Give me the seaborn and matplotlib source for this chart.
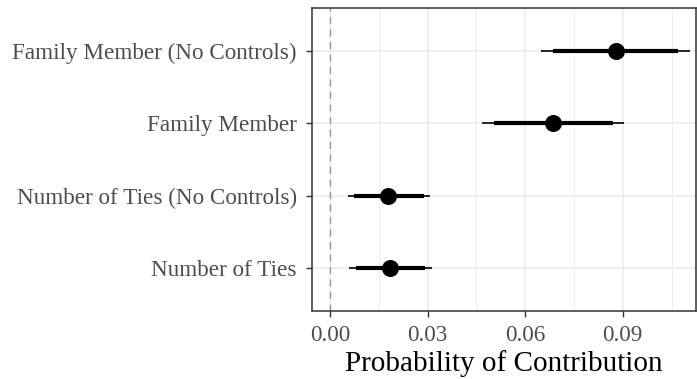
import matplotlib
matplotlib.use("Agg")
import matplotlib.pyplot as plt
import seaborn as sns
import pandas as pd
from matplotlib.ticker import MultipleLocator

# estimates, ordered bottom to top
labels = ["Number of Ties", "Number of Ties (No Controls)",
          "Family Member", "Family Member (No Controls)"]
est = [0.0186, 0.0180, 0.0687, 0.0879]
lo95 = [0.0059, 0.0055, 0.0468, 0.0650]
hi95 = [0.0313, 0.0309, 0.0904, 0.1106]
lo90 = [0.0080, 0.0074, 0.0503, 0.0687]
hi90 = [0.0292, 0.0288, 0.0869, 0.1070]

df = pd.DataFrame({"term": labels, "est": est, "lo95": lo95, "hi95": hi95,
                   "lo90": lo90, "hi90": hi90})


def main():
    sns.set_theme(style="whitegrid")
    plt.rcParams["font.family"] = ["Liberation Serif", "DejaVu Serif"]

    fig = plt.figure(figsize=(6.97, 3.79), dpi=100)
    ax = fig.add_axes([0.4476, 0.1794, 0.5514, 0.8])

    ax.axvline(0, color="#999999", lw=1.0, ls=(0, (5, 4)), zorder=1)
    ax.hlines(df["term"], df["lo95"], df["hi95"], color="black", lw=1.2, zorder=2)
    ax.hlines(df["term"], df["lo90"], df["hi90"], color="black", lw=3.0, zorder=3)
    sns.scatterplot(data=df, x="est", y="term", ax=ax, color="black", s=150,
                    edgecolor="black", linewidth=0, zorder=4)

    ax.set_xlim(-0.0055, 0.1126)
    ax.set_ylim(-0.6, 3.6)
    ax.xaxis.set_minor_locator(MultipleLocator(0.015))
    ax.set_xticks([0.0, 0.03, 0.06, 0.09])
    ax.set_xticklabels(["0.00", "0.03", "0.06", "0.09"])

    ax.grid(True, which="major", color="#EBEBEB", lw=1.1)
    ax.grid(True, which="minor", axis="x", color="#EBEBEB", lw=0.6)
    ax.set_axisbelow(True)
    for s in ax.spines.values():
        s.set_color("#333333")
        s.set_linewidth(1.1)

    ax.tick_params(axis="both", which="major", length=4, width=1.0, color="#333333",
                   labelsize=16.7, labelcolor="#4D4D4D", pad=6.8, bottom=True, left=True)
    ax.tick_params(axis="x", which="major", pad=6)
    ax.tick_params(axis="x", which="minor", length=0)
    ax.set_xlabel("Probability of Contribution", fontsize=21, color="black", labelpad=3)
    ax.set_ylabel("")

    fig.savefig("out.png", dpi=100)


if __name__ == "__main__":
    main()
